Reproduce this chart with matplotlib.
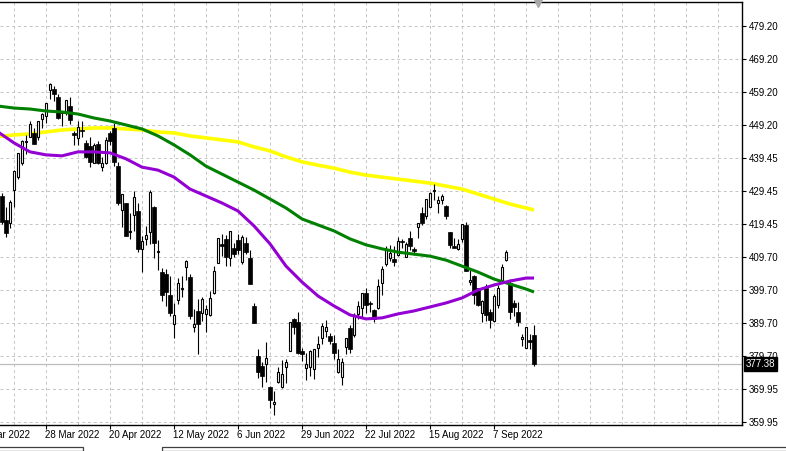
import numpy as np
import matplotlib.pyplot as plt
from matplotlib.patches import Rectangle
from matplotlib.transforms import blended_transform_factory

# daily candles
dates = ["10 Mar 2022", "11 Mar 2022", "14 Mar 2022", "15 Mar 2022", "16 Mar 2022",
         "17 Mar 2022", "18 Mar 2022", "21 Mar 2022", "22 Mar 2022", "23 Mar 2022",
         "24 Mar 2022", "25 Mar 2022", "28 Mar 2022", "29 Mar 2022", "30 Mar 2022",
         "31 Mar 2022", "1 Apr 2022", "4 Apr 2022", "5 Apr 2022", "6 Apr 2022",
         "7 Apr 2022", "8 Apr 2022", "11 Apr 2022", "12 Apr 2022", "13 Apr 2022",
         "14 Apr 2022", "18 Apr 2022", "19 Apr 2022", "20 Apr 2022", "21 Apr 2022",
         "22 Apr 2022", "25 Apr 2022", "26 Apr 2022", "27 Apr 2022", "28 Apr 2022",
         "29 Apr 2022", "2 May 2022", "3 May 2022", "4 May 2022", "5 May 2022",
         "6 May 2022", "9 May 2022", "10 May 2022", "11 May 2022", "12 May 2022",
         "13 May 2022", "16 May 2022", "17 May 2022", "18 May 2022", "19 May 2022",
         "20 May 2022", "23 May 2022", "24 May 2022", "25 May 2022", "26 May 2022",
         "27 May 2022", "31 May 2022", "1 Jun 2022", "2 Jun 2022", "3 Jun 2022",
         "6 Jun 2022", "7 Jun 2022", "8 Jun 2022", "9 Jun 2022", "10 Jun 2022",
         "13 Jun 2022", "14 Jun 2022", "15 Jun 2022", "16 Jun 2022", "17 Jun 2022",
         "21 Jun 2022", "22 Jun 2022", "23 Jun 2022", "24 Jun 2022", "27 Jun 2022",
         "28 Jun 2022", "29 Jun 2022", "30 Jun 2022", "1 Jul 2022", "5 Jul 2022",
         "6 Jul 2022", "7 Jul 2022", "8 Jul 2022", "11 Jul 2022", "12 Jul 2022",
         "13 Jul 2022", "14 Jul 2022", "15 Jul 2022", "18 Jul 2022", "19 Jul 2022",
         "20 Jul 2022", "21 Jul 2022", "22 Jul 2022", "25 Jul 2022", "26 Jul 2022",
         "27 Jul 2022", "28 Jul 2022", "29 Jul 2022", "1 Aug 2022", "2 Aug 2022",
         "3 Aug 2022", "4 Aug 2022", "5 Aug 2022", "8 Aug 2022", "9 Aug 2022",
         "10 Aug 2022", "11 Aug 2022", "12 Aug 2022", "15 Aug 2022", "16 Aug 2022",
         "17 Aug 2022", "18 Aug 2022", "19 Aug 2022", "22 Aug 2022", "23 Aug 2022",
         "24 Aug 2022", "25 Aug 2022", "26 Aug 2022", "29 Aug 2022", "30 Aug 2022",
         "31 Aug 2022", "1 Sep 2022", "2 Sep 2022", "6 Sep 2022", "7 Sep 2022",
         "8 Sep 2022", "9 Sep 2022", "12 Sep 2022", "13 Sep 2022", "14 Sep 2022",
         "15 Sep 2022", "16 Sep 2022", "19 Sep 2022", "20 Sep 2022", "21 Sep 2022"]

opens = [422.5, 428.1, 420.9, 419.8, 429.9, 433.6, 438.0, 444.3, 445.9, 446.9,
         445.9, 451.2, 452.1, 460.0, 460.3, 457.9, 453.3, 453.1, 455.2, 446.9,
         445.6, 448.0, 444.1, 443.1, 438.0, 443.6, 436.8, 437.9, 446.9, 448.5,
         436.9, 423.7, 425.8, 417.2, 422.3, 423.6, 412.1, 415.0, 417.1, 424.6,
         411.1, 405.1, 404.5, 398.1, 389.4, 396.7, 400.0, 406.5, 403.5, 388.6,
         393.3, 392.8, 392.6, 392.3, 398.7, 407.9, 413.6, 415.2, 409.4, 412.4,
         414.8, 408.1, 413.9, 409.3, 394.9, 379.9, 376.9, 377.4, 370.5, 365.5,
         371.9, 370.6, 376.6, 381.4, 391.1, 390.2, 381.2, 376.2, 376.6, 375.9,
         382.1, 385.1, 387.3, 385.9, 383.7, 375.1, 373.6, 382.6, 388.4, 386.1,
         392.5, 394.2, 398.9, 395.8, 393.8, 394.4, 401.9, 407.6, 409.2, 409.1,
         410.3, 414.4, 409.7, 415.3, 412.2, 418.8, 423.0, 422.0, 424.8, 429.6,
         426.0, 426.8, 425.0, 417.1, 412.9, 412.1, 415.2, 419.4, 402.2, 403.9,
         400.2, 392.9, 400.3, 393.1, 390.4, 395.2, 402.7, 408.8, 401.8, 395.7,
         393.0, 385.0, 382.3, 384.7, 386.1]
highs = [426.4, 428.8, 424.6, 426.8, 435.7, 441.1, 444.9, 446.5, 450.6, 448.5,
         450.5, 453.0, 455.9, 462.1, 461.2, 458.8, 453.5, 456.9, 457.8, 447.6,
         450.7, 450.6, 445.0, 445.8, 444.1, 444.7, 439.8, 445.8, 447.6, 450.0,
         438.1, 428.7, 426.0, 422.9, 429.6, 425.9, 415.9, 418.9, 429.7, 425.0,
         414.8, 406.4, 406.1, 404.0, 395.8, 403.2, 404.0, 408.6, 404.5, 394.1,
         397.0, 397.7, 395.2, 399.5, 407.0, 415.4, 416.5, 416.2, 417.4, 414.0,
         416.6, 416.2, 415.8, 411.7, 395.8, 381.8, 377.9, 383.9, 370.9, 369.4,
         376.5, 378.7, 378.8, 390.1, 391.4, 393.2, 382.3, 380.7, 381.7, 382.0,
         385.9, 389.8, 390.6, 386.9, 386.2, 381.9, 379.1, 385.3, 389.1, 392.9,
         396.3, 398.8, 400.2, 396.5, 394.1, 402.9, 406.8, 413.0, 413.4, 413.0,
         415.7, 415.1, 414.2, 417.6, 412.8, 420.0, 424.8, 427.2, 429.3, 431.7,
         428.0, 428.6, 425.3, 417.1, 415.4, 415.1, 419.6, 420.1, 405.8, 404.1,
         400.2, 396.8, 401.6, 394.1, 398.6, 401.2, 407.5, 411.7, 403.1, 396.7,
         396.0, 386.4, 388.6, 386.4, 389.3]
lows = [420.4, 419.5, 415.8, 418.4, 424.8, 433.2, 437.2, 440.7, 445.9, 443.7,
        444.8, 448.4, 450.1, 457.2, 456.5, 451.2, 449.1, 452.3, 449.8, 443.5,
        443.5, 445.9, 439.4, 436.7, 437.8, 437.7, 435.6, 437.7, 443.5, 437.1,
        425.4, 418.8, 416.1, 415.0, 417.6, 411.2, 405.0, 413.4, 413.7, 409.4,
        405.7, 396.5, 394.8, 392.0, 385.2, 395.6, 397.6, 402.6, 391.0, 387.1,
        380.5, 390.4, 387.0, 391.9, 398.5, 407.7, 410.0, 406.9, 407.0, 409.5,
        410.6, 407.6, 410.4, 401.4, 389.8, 373.3, 370.6, 372.1, 364.1, 362.2,
        371.8, 370.2, 371.7, 381.4, 386.5, 380.5, 378.4, 372.6, 373.8, 372.9,
        379.6, 383.3, 385.7, 383.5, 379.0, 374.7, 371.0, 380.5, 380.7, 385.4,
        391.0, 391.6, 392.8, 393.2, 390.0, 394.1, 398.2, 406.8, 408.4, 406.8,
        410.0, 412.4, 409.6, 411.8, 410.2, 415.3, 419.2, 421.0, 424.7, 426.9,
        422.8, 425.5, 421.2, 412.3, 412.6, 411.8, 414.1, 405.3, 401.2, 395.6,
        395.0, 390.0, 390.3, 388.4, 390.2, 394.4, 402.5, 408.5, 391.1, 391.8,
        388.8, 382.9, 382.2, 381.8, 376.9]
closes = [425.5, 420.1, 417.0, 426.2, 435.6, 441.1, 444.5, 444.4, 449.6, 443.8,
          450.5, 452.7, 455.9, 461.6, 458.7, 451.6, 452.9, 456.8, 451.0, 446.5,
          448.8, 447.6, 439.9, 438.3, 443.3, 437.8, 438.0, 445.0, 444.7, 438.1,
          426.0, 428.5, 416.1, 417.3, 427.8, 412.0, 414.5, 416.4, 429.1, 413.8,
          411.3, 398.2, 399.1, 392.8, 392.3, 401.7, 400.1, 408.3, 391.9, 389.5,
          389.6, 396.9, 393.9, 397.4, 405.3, 415.3, 412.9, 409.6, 417.4, 410.5,
          411.8, 415.7, 411.2, 401.4, 389.8, 375.0, 373.9, 379.2, 366.7, 365.9,
          375.1, 374.4, 378.1, 390.1, 388.6, 380.7, 380.3, 377.3, 381.2, 382.0,
          383.3, 389.0, 388.7, 384.2, 380.8, 378.8, 377.9, 385.1, 382.0, 392.3,
          394.8, 398.8, 395.1, 395.6, 390.9, 401.0, 406.1, 412.0, 410.8, 408.1,
          414.5, 414.2, 413.5, 413.0, 411.4, 420.0, 420.0, 427.1, 428.9, 429.7,
          426.7, 427.9, 422.1, 413.4, 412.4, 413.7, 419.5, 405.3, 402.6, 398.2,
          395.2, 396.4, 392.2, 390.8, 397.8, 400.4, 406.6, 411.0, 393.1, 394.6,
          390.1, 385.6, 388.6, 384.1, 377.4]

# moving averages, one reading every 4 bars (last one at the final bar)
ma_bars = list(range(0, 133, 4)) + [134]
ma_yellow = [445.9, 446.4, 446.7, 447.3, 447.9, 448.2, 448.5, 448.5, 448.2, 447.9,
             447.3, 447.0, 446.1, 445.5, 444.9, 444.3, 442.8, 441.6, 439.8, 438.3,
             437.3, 436.4, 435.2, 434.3, 433.7, 433.1, 432.5, 431.9, 431.0, 430.1,
             428.6, 427.1, 425.6, 424.4, 423.8]
ma_green = [455.1, 454.5, 454.2, 453.6, 453.3, 452.7, 451.5, 450.6, 449.4, 448.2,
            446.1, 443.4, 440.4, 437.0, 434.6, 432.2, 429.8, 427.1, 424.4, 421.1,
            419.3, 417.5, 415.1, 413.3, 412.1, 411.1, 410.5, 409.9, 408.7, 406.9,
            405.1, 403.0, 401.5, 400.0, 399.1]
ma_purple = [447.3, 444.0, 441.3, 440.4, 440.1, 441.3, 441.3, 441.0, 439.2, 436.7,
             435.8, 433.7, 430.1, 428.0, 425.9, 423.5, 419.0, 413.6, 406.9, 402.1,
             397.9, 394.9, 392.2, 391.0, 391.3, 392.5, 393.4, 394.6, 395.8, 397.3,
             399.7, 401.2, 402.4, 403.3, 403.3]

price_labels = ["359.95", "369.95", "379.70", "389.70", "399.70", "409.70", "419.45",
                "429.45", "439.45", "449.20", "459.20", "469.20", "479.20"]
date_labels = ["4 Mar 2022", "28 Mar 2022", "20 Apr 2022", "12 May 2022", "6 Jun 2022",
               "29 Jun 2022", "22 Jul 2022", "15 Aug 2022", "7 Sep 2022"]
label_step = 16
last_price = 377.38

W, H = 786, 451
plt.rcParams["font.family"] = ["Liberation Sans", "DejaVu Sans"]
fig = plt.figure(figsize=(W / 100, H / 100), dpi=100)
fig.patch.set_facecolor("white")
ax = fig.add_axes([0, 26 / H, 742 / W, 423 / H])

n = len(dates)
x = np.arange(n)
o = np.array(opens); h = np.array(highs); l = np.array(lows); c = np.array(closes)

# grid
first_label = dates.index(date_labels[1]) - label_step
for gx in range(first_label, 190, label_step // 2):
    ax.axvline(gx, color="#c4c4c4", lw=0.7, ls=(0, (3, 3)), zorder=0)
ytick_pos = np.linspace(float(price_labels[0]), float(price_labels[-1]), len(price_labels))
for gy in ytick_pos:
    ax.axhline(gy, color="#c4c4c4", lw=0.7, ls=(0, (3, 3)), zorder=0)

# last price line
ax.axhline(last_price, color="#bdbdbd", lw=0.9, zorder=1)

# candles
ax.vlines(x, l, h, color="black", lw=0.8, zorder=3)
up = c >= o
body_lo = np.minimum(o, c)
body_h = np.maximum(np.abs(c - o), 0.25)
ax.bar(x[up], body_h[up], bottom=body_lo[up], width=0.62, color="white",
       edgecolor="black", linewidth=0.8, zorder=4)
ax.bar(x[~up], body_h[~up], bottom=body_lo[~up], width=0.78, color="black",
       edgecolor="black", linewidth=0.5, zorder=4)

# moving averages
ax.plot(ma_bars, ma_yellow, color="#ffff00", lw=2.6, zorder=2, solid_capstyle="butt")
ax.plot(ma_bars, ma_green, color="#008000", lw=2.2, zorder=5, solid_capstyle="butt")
ax.plot(ma_bars, ma_purple, color="#9400d3", lw=2.2, zorder=5, solid_capstyle="butt")

# axes style
for s in ["top", "right", "bottom"]:
    ax.spines[s].set_color("black")
    ax.spines[s].set_linewidth(1.0)
ax.spines["left"].set_visible(False)
ax.yaxis.tick_right()
ax.set_yticks(ytick_pos)
ax.set_yticklabels(price_labels)
ax.tick_params(axis="y", direction="out", length=3, width=0.8, pad=2, labelsize=7,
               colors="black")
lab_pos = [first_label + k * label_step for k in range(len(date_labels))]
ax.set_xticks(lab_pos)
ax.set_xticklabels([])
ax.tick_params(axis="x", direction="out", length=3, width=0.8)
ax.set_xlim(0.5, 186)
ax.set_ylim(359.05, 486.43)
for p, t in zip(lab_pos, date_labels):
    ax.text(p - 0.3, -0.012, t, transform=blended_transform_factory(ax.transData, ax.transAxes),
            ha="left", va="top", fontsize=7, clip_on=False)

# last price tag
ax.text(1.0055, last_price, f"{last_price:.2f}",
        transform=blended_transform_factory(ax.transAxes, ax.transData),
        ha="left", va="center", fontsize=7, color="white", zorder=10, clip_on=False,
        bbox=dict(boxstyle="square,pad=0.18", facecolor="black", edgecolor="black"))

# shift marker at the top and bottom tabs
fig.lines.append(plt.Line2D([538 / W], [1 - 3 / H], marker="v", markersize=6,
                            color="#a8a8a8", transform=fig.transFigure))
fig.patches.append(Rectangle((-2 / W, 0), 85 / W, 4 / H, transform=fig.transFigure,
                             fill=False, edgecolor="#404040", lw=0.9))
fig.patches.append(Rectangle((162 / W, 0), 630 / W, 4 / H, transform=fig.transFigure,
                             fill=False, edgecolor="#404040", lw=0.9))

fig.savefig("out.png", dpi=100, facecolor="white")
